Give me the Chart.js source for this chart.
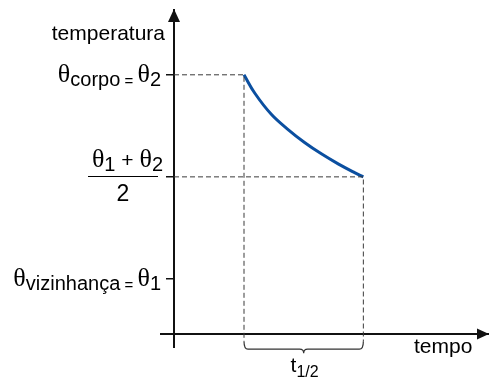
<!DOCTYPE html>
<html>
<head>
<meta charset="utf-8">
<script src="https://cdn.jsdelivr.net/npm/chart.js@4/dist/chart.umd.min.js"></script>
<style>
	html, body { margin: 0; padding: 0; background: #fff; }
	#wrap { width: 489px; height: 383px; }
</style>
</head>
<body>
<div id="wrap"><canvas id="CanvasCooling"></canvas></div>
<script>
// values (time in arbitrary units, temperature 0..100)
var curveTime = [2.0, 2.31, 2.78, 3.26, 3.73, 4.21, 4.69, 5.16, 5.41];
var curveTemp = [80, 74.3, 67.8, 63.1, 59.1, 55.6, 52.5, 49.8, 48.5];
var tempTicks = [17, 48.5, 80]; // theta1, (theta1+theta2)/2, theta2
var axisTitleY = 'temperatura';
var axisTitleX = 'tempo';

var SANS = '"Liberation Sans", Arial, sans-serif';
var SERIF = '"Liberation Serif", "Times New Roman", serif';
var AXIS_COLOR = '#111';
var GUIDE_COLOR = '#3a3a3a';

function $each(arr, fn) { for (var i = 0; i < arr.length; i++) fn(i, arr[i]); }

var curveData = [];
$each(curveTime, function (i, t) { curveData.push({ x: t, y: curveTemp[i] }); });

var t0 = curveTime[0];
var t1 = curveTime[curveTime.length - 1];
var guideBottom = -2.2; // guides run a bit under the time axis, into the brace

var datasets = [];
datasets.push({
	label: 'guide theta2',
	data: [{ x: 0, y: curveTemp[0] }, { x: t0, y: curveTemp[0] }, { x: t0, y: guideBottom }],
	borderColor: GUIDE_COLOR, borderWidth: 1, borderDash: [5, 3], pointRadius: 0, tension: 0, clip: false
});
datasets.push({
	label: 'guide half',
	data: [{ x: 0, y: tempTicks[1] }, { x: t1, y: tempTicks[1] }, { x: t1, y: guideBottom }],
	borderColor: GUIDE_COLOR, borderWidth: 1, borderDash: [5, 3], pointRadius: 0, tension: 0, clip: false
});
datasets.push({
	label: 'temperatura',
	data: curveData,
	borderColor: '#0b4fa0', borderWidth: 3, pointRadius: 0,
	tension: 0.4, clip: false
});

// draws a row of text pieces ending at xRight
function drawPieces(ctx, pieces, xRight, baseY) {
	var total = 0;
	$each(pieces, function (i, p) { ctx.font = p.font; total += ctx.measureText(p.text).width; });
	var x = xRight - total;
	ctx.textAlign = 'left';
	ctx.textBaseline = 'alphabetic';
	$each(pieces, function (i, p) {
		ctx.font = p.font;
		ctx.fillText(p.text, x, baseY + (p.dy || 0));
		x += ctx.measureText(p.text).width;
	});
}

var decorPlugin = {
	id: 'decor',
	afterDraw: function (chart) {
		var ctx = chart.ctx;
		var xs = chart.scales.x, ys = chart.scales.y;
		var ax = xs.getPixelForValue(0);
		var ay = ys.getPixelForValue(0);
		var left = chart.chartArea.left, top = chart.chartArea.top, right = chart.chartArea.right;
		ctx.save();

		// axis stubs and arrow heads
		ctx.strokeStyle = AXIS_COLOR;
		ctx.fillStyle = AXIS_COLOR;
		ctx.lineWidth = 2;
		ctx.beginPath();
		ctx.moveTo(ax, ay); ctx.lineTo(ax, ay + 14);
		ctx.moveTo(ax, ay); ctx.lineTo(ax - 14, ay);
		ctx.stroke();
		ctx.beginPath();
		ctx.moveTo(left, top - 1); ctx.lineTo(left - 6, top + 12); ctx.lineTo(left + 6, top + 12); ctx.closePath();
		ctx.fill();
		ctx.beginPath();
		ctx.moveTo(right, ay); ctx.lineTo(right - 12, ay - 5.5); ctx.lineTo(right - 12, ay + 5.5); ctx.closePath();
		ctx.fill();

		// brace under t1/2
		var bx0 = xs.getPixelForValue(t0), bx1 = xs.getPixelForValue(t1);
		var byTop = ys.getPixelForValue(guideBottom), byMid = byTop + 8;
		var bc = (bx0 + bx1) / 2;
		ctx.strokeStyle = '#333';
		ctx.lineWidth = 1.2;
		ctx.beginPath();
		ctx.moveTo(bx0, byTop);
		ctx.quadraticCurveTo(bx0, byMid, bx0 + 4, byMid);
		ctx.lineTo(bc - 4, byMid);
		ctx.quadraticCurveTo(bc, byMid, bc, byMid + 4);
		ctx.quadraticCurveTo(bc, byMid, bc + 4, byMid);
		ctx.lineTo(bx1 - 4, byMid);
		ctx.quadraticCurveTo(bx1, byMid, bx1, byTop);
		ctx.stroke();

		ctx.fillStyle = '#000';
		drawPieces(ctx, [
			{ text: 't', font: '21px ' + SANS },
			{ text: '1/2', font: '16px ' + SANS, dy: 5 }
		], bc + 15, byMid + 23);

		// axis titles
		ctx.font = '21px ' + SANS;
		ctx.textAlign = 'right';
		ctx.fillText(axisTitleY, left - 9, top + 30);
		ctx.textAlign = 'left';
		ctx.fillText(axisTitleX, right - 75, ay + 19);

		// tick labels
		var lx = left - 13;
		var yHi = ys.getPixelForValue(tempTicks[2]);
		drawPieces(ctx, [
			{ text: '\u03B8', font: '26px ' + SERIF },
			{ text: 'corpo', font: '20px ' + SANS, dy: 4 },
			{ text: ' = ', font: '15px ' + SANS, dy: 4 },
			{ text: '\u03B8', font: '26px ' + SERIF },
			{ text: '2', font: '20px ' + SANS, dy: 4 }
		], lx, yHi + 7);

		var yMid = ys.getPixelForValue(tempTicks[1]);
		drawPieces(ctx, [
			{ text: '\u03B8', font: '26px ' + SERIF },
			{ text: '1', font: '20px ' + SANS, dy: 4 },
			{ text: ' + ', font: '21px ' + SANS },
			{ text: '\u03B8', font: '26px ' + SERIF },
			{ text: '2', font: '20px ' + SANS, dy: 4 }
		], lx + 2, yMid - 10);
		ctx.lineWidth = 1;
		ctx.strokeStyle = '#000';
		ctx.beginPath();
		ctx.moveTo(left - 86, Math.round(yMid) - 0.5);
		ctx.lineTo(left - 16, Math.round(yMid) - 0.5);
		ctx.stroke();
		ctx.font = '23px ' + SANS;
		ctx.textAlign = 'center';
		ctx.fillText('2', left - 51, yMid + 24);

		var yLo = ys.getPixelForValue(tempTicks[0]);
		drawPieces(ctx, [
			{ text: '\u03B8', font: '26px ' + SERIF },
			{ text: 'vizinhan\u00E7a', font: '20px ' + SANS, dy: 4 },
			{ text: ' = ', font: '15px ' + SANS, dy: 4 },
			{ text: '\u03B8', font: '26px ' + SERIF },
			{ text: '1', font: '20px ' + SANS, dy: 4 }
		], lx, yLo + 7);

		ctx.restore();
	}
};

var context = document.getElementById('CanvasCooling');
var myChart = new Chart(context, {
	type: 'line',
	data: { datasets: datasets },
	options: {
		responsive: true,
		maintainAspectRatio: false,
		animation: false,
		events: [],
		layout: { padding: { top: 10, right: 0, left: 0, bottom: 0 } },
		plugins: { legend: { display: false }, tooltip: { enabled: false } },
		scales: {
			x: {
				type: 'linear', min: 0, max: 9,
				grid: { display: false },
				ticks: { display: false },
				border: { display: true, color: AXIS_COLOR, width: 2 },
				afterFit: function (scale) { scale.height = 49; }
			},
			y: {
				type: 'linear', min: 0, max: 100,
				afterBuildTicks: function (scale) {
					scale.ticks = tempTicks.map(function (v) { return { value: v }; });
				},
				grid: { display: true, drawOnChartArea: false, drawTicks: true, tickLength: 8, color: AXIS_COLOR, lineWidth: 1.5 },
				ticks: { display: false },
				border: { display: true, color: AXIS_COLOR, width: 2 },
				afterFit: function (scale) { scale.width = 174; }
			}
		}
	},
	plugins: [decorPlugin]
});
</script>
</body>
</html>
